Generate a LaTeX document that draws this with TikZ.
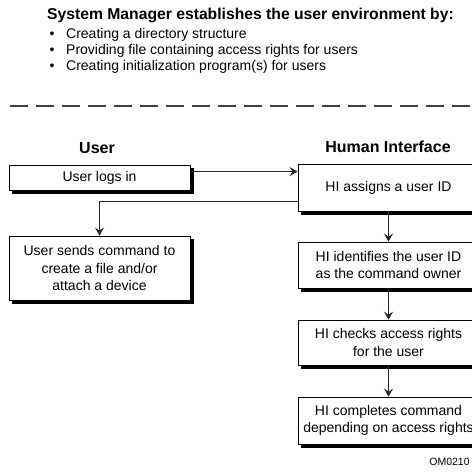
\documentclass[tikz,border=0pt]{standalone}
\usepackage{fontspec}
\setmainfont{Liberation Sans}
\usetikzlibrary{arrows.meta, backgrounds}

\begin{document}
\begin{tikzpicture}[x=1pt, y=-1pt, >={Stealth[length=8pt, width=9pt, inset=3pt]},
    boite/.style={draw, line width=0.8pt, fill=white, minimum width=181pt, inner sep=2pt,
        align=center, font=\fontsize{14}{17.5}\selectfont},
    ombre/.style={fill=black},
    entete/.style={font=\fontsize{16}{19}\selectfont\bfseries},
    puce/.style={anchor=base west, inner sep=0pt, font=\fontsize{14}{17}\selectfont},
    fleche/.style={->, line width=0.8pt, draw=black!85}]
    % Cadre de l'image (coordonnees en pixels, y vers le bas)
    \useasboundingbox (0,0) rectangle (471,476);

    % Titre et liste a puces
    \node[anchor=base west, inner sep=0pt, font=\fontsize{15.7}{19}\selectfont\bfseries] (titre) at (47,20)
        {System Manager establishes the user environment by:};
    \node[puce] (p1) at (49.5,39) {\makebox[16.5pt][l]{\textbullet}Creating a directory structure};
    \node[puce] (p2) at (49.5,55) {\makebox[16.5pt][l]{\textbullet}Providing file containing access rights for users};
    \node[puce] (p3) at (49.5,71) {\makebox[16.5pt][l]{\textbullet}Creating initialization program(s) for users};

    % Ligne de separation en tirets
    \draw[dash pattern=on 18pt off 8pt, line width=1.5pt, black!75] (10,106) -- (471,106);

    % En-tetes des colonnes
    \node[entete] (user) at (97,148) {User};
    \node[entete] (hi) at (388,147) {Human Interface};

    % Colonne de gauche (utilisateur)
    \node[boite, minimum height=25pt] (login) at (99.5,177.5) {User logs in};
    \node[boite, minimum height=64pt] (cmd) at (99.5,268) {User sends command to\\create a file and/or\\attach a device};

    % Colonne de droite (interface)
    \node[boite, minimum height=47pt] (hi1) at (388.5,187.5) {HI assigns a user ID};
    \node[boite, minimum height=46pt] (hi2) at (388.5,265) {HI identifies the user ID\\as the command owner};
    \node[boite, minimum height=45pt] (hi3) at (388.5,342.5) {HI checks access rights\\for the user};
    \node[boite, minimum height=47pt] (hi4) at (388.5,420.5) {HI completes command\\depending on access rights};

    % Ombres portees sous les boites
    \begin{scope}[on background layer]
        \foreach \b in {login,cmd,hi1,hi2,hi3,hi4}
            \fill[ombre] ([xshift=3.5pt,yshift=-3.5pt]\b.south west) rectangle ([xshift=3.5pt,yshift=-3.5pt]\b.north east);
    \end{scope}

    % Fleches entre les boites
    \draw[fleche] ([yshift=-7pt]login.north east) -- ([yshift=-7pt]login.north east -| hi1.west);
    \draw[fleche] ([yshift=10pt]hi1.south west) -| (cmd.north);
    \draw[fleche] (hi1) -- (hi2);
    \draw[fleche] (hi2) -- (hi3);
    \draw[fleche] (hi3) -- (hi4);

    % Reference de la figure
    \node[font=\fontsize{10.5}{12}\selectfont] (ref) at (449.5,462) {OM0210};

\end{tikzpicture}
\end{document}
